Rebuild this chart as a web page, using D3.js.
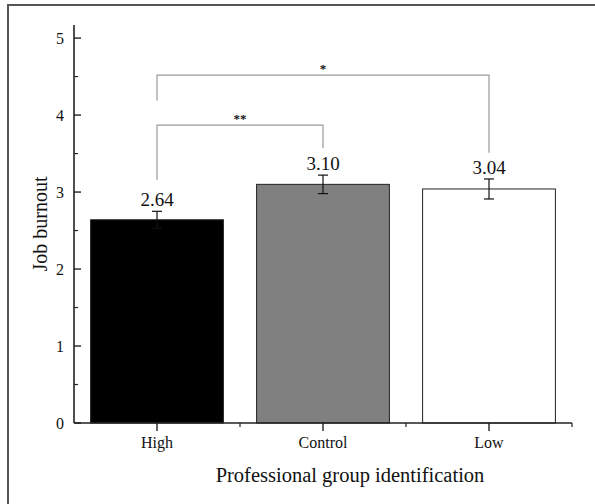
<!DOCTYPE html>
<html>
<head>
<meta charset="utf-8">
<script src="https://cdn.jsdelivr.net/npm/d3@7"></script>
<style>
body { margin: 0; background: #fff; }
text { font-family: "Liberation Serif", "Times New Roman", serif; fill: #111; }
</style>
</head>
<body>
<svg id="chart" width="595" height="504"></svg>
<script>
// data
var groups = ["High", "Control", "Low"];
var means = [2.64, 3.10, 3.04];
var errors = [0.11, 0.12, 0.13];
var fills = ["#000000", "#808080", "#ffffff"];
var yTicks = [0, 1, 2, 3, 4, 5];

// significance brackets: [from, to, line level, left leg end, right leg end, mark]
var brackets = [
	["High", "Control", 3.87, 3.16, 3.57, "**"],
	["High", "Low", 4.52, 4.19, 3.51, "*"]
];

var svg = d3.select("#chart");

// outer frame (only left and top edges show)
svg.append("rect")
	.attr("x", 8).attr("y", 5)
	.attr("width", 700).attr("height", 700)
	.attr("fill", "none")
	.attr("stroke", "#555")
	.attr("stroke-width", 2);

var x = d3.scaleBand()
	.domain(groups)
	.range([74, 572])
	.paddingInner(0.2)
	.paddingOuter(0.1);

var y = d3.scaleLinear()
	.domain([0, 5.17])
	.range([423, 25]);

var cx = function(g) { return x(g) + x.bandwidth() / 2; };

// bars
svg.append("g")
	.selectAll("rect")
	.data(groups)
	.enter()
	.append("rect")
	.attr("x", function(d) { return x(d); })
	.attr("y", function(d, i) { return y(means[i]); })
	.attr("width", x.bandwidth())
	.attr("height", function(d, i) { return y(0) - y(means[i]); })
	.attr("fill", function(d, i) { return fills[i]; })
	.attr("stroke", "#222")
	.attr("stroke-width", 1);

// error bars
var eb = svg.append("g").attr("stroke", "#111").attr("stroke-width", 1.2);
groups.forEach(function(g, i) {
	var c = cx(g);
	eb.append("line")
		.attr("x1", c).attr("x2", c)
		.attr("y1", y(means[i] + errors[i]))
		.attr("y2", y(means[i] - errors[i]));
	[1, -1].forEach(function(s) {
		eb.append("line")
			.attr("x1", c - 5).attr("x2", c + 5)
			.attr("y1", y(means[i] + s * errors[i]))
			.attr("y2", y(means[i] + s * errors[i]));
	});
});

// value labels
svg.append("g")
	.selectAll("text")
	.data(groups)
	.enter()
	.append("text")
	.attr("x", function(d) { return cx(d); })
	.attr("y", function(d, i) { return y(means[i] + errors[i]) - 5; })
	.attr("text-anchor", "middle")
	.attr("font-size", 19)
	.text(function(d, i) { return means[i].toFixed(2); });

// brackets
var br = svg.append("g");
brackets.forEach(function(b) {
	var x1 = cx(b[0]), x2 = cx(b[1]);
	br.append("path")
		.attr("d", "M" + x1 + "," + y(b[3]) + "V" + y(b[2]) + "H" + x2 + "V" + y(b[4]))
		.attr("fill", "none")
		.attr("stroke", "#999")
		.attr("stroke-width", 1.2);
	br.append("text")
		.attr("x", (x1 + x2) / 2)
		.attr("y", y(b[2]) - 2)
		.attr("text-anchor", "middle")
		.attr("font-size", 13)
		.attr("font-weight", "bold")
		.text(b[5]);
});

// y axis
var yAxis = svg.append("g").attr("transform", "translate(74,0)");
yAxis.append("line")
	.attr("x1", 0).attr("x2", 0)
	.attr("y1", y(0)).attr("y2", y(5.17))
	.attr("stroke", "#222").attr("stroke-width", 1.6);
yAxis.selectAll(".major")
	.data(yTicks)
	.enter()
	.append("line")
	.attr("x1", 0).attr("x2", 7)
	.attr("y1", function(d) { return y(d); })
	.attr("y2", function(d) { return y(d); })
	.attr("stroke", "#222").attr("stroke-width", 1.4);
yAxis.selectAll(".minor")
	.data(yTicks.slice(0, 5))
	.enter()
	.append("line")
	.attr("x1", 0).attr("x2", 4)
	.attr("y1", function(d) { return y(d + 0.5); })
	.attr("y2", function(d) { return y(d + 0.5); })
	.attr("stroke", "#222").attr("stroke-width", 1.2);
yAxis.selectAll("text")
	.data(yTicks)
	.enter()
	.append("text")
	.attr("x", -10)
	.attr("y", function(d) { return y(d); })
	.attr("dy", "0.35em")
	.attr("text-anchor", "end")
	.attr("font-size", 16)
	.text(function(d) { return d; });

// x axis
var xAxis = svg.append("g").attr("transform", "translate(0," + y(0) + ")");
xAxis.append("line")
	.attr("x1", 74).attr("x2", 572)
	.attr("y1", 0).attr("y2", 0)
	.attr("stroke", "#222").attr("stroke-width", 1.6);
xAxis.selectAll(".major")
	.data(groups)
	.enter()
	.append("line")
	.attr("x1", function(d) { return cx(d); })
	.attr("x2", function(d) { return cx(d); })
	.attr("y1", 0).attr("y2", 8)
	.attr("stroke", "#222").attr("stroke-width", 1.4);
xAxis.selectAll(".minor")
	.data(groups)
	.enter()
	.append("line")
	.attr("x1", function(d) { return cx(d) + x.step() / 2; })
	.attr("x2", function(d) { return cx(d) + x.step() / 2; })
	.attr("y1", 0).attr("y2", 4)
	.attr("stroke", "#222").attr("stroke-width", 1.2);
xAxis.selectAll("text")
	.data(groups)
	.enter()
	.append("text")
	.attr("x", function(d) { return cx(d); })
	.attr("y", 25)
	.attr("text-anchor", "middle")
	.attr("font-size", 16)
	.text(function(d) { return d; });

// axis titles
svg.append("text")
	.attr("x", 350)
	.attr("y", 482)
	.attr("text-anchor", "middle")
	.attr("font-size", 20.5)
	.text("Professional group identification");

svg.append("text")
	.attr("transform", "translate(47,224) rotate(-90)")
	.attr("text-anchor", "middle")
	.attr("font-size", 20)
	.text("Job burnout");
</script>
</body>
</html>
